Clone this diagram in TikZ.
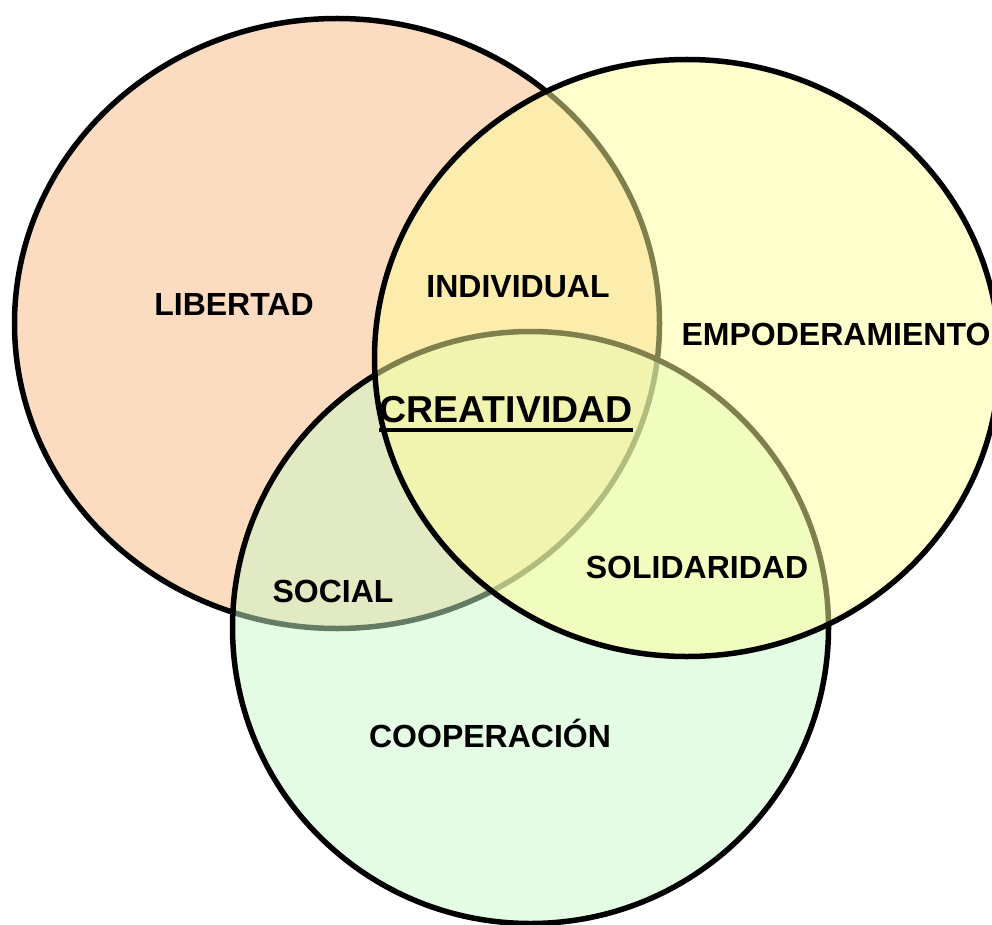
\documentclass[tikz,border=0pt]{standalone}
\usepackage{fontspec}
\setmainfont{Liberation Sans}
\usetikzlibrary{calc}

\definecolor{libcol}{RGB}{252,220,192}
\definecolor{coopcol}{RGB}{199,249,199}
\definecolor{empcol}{RGB}{255,255,155}

\begin{document}
\begin{tikzpicture}[x=1pt,y=-1pt,
    ring/.style={line width=5.5pt,draw=black},
    lbl/.style={font=\fontsize{32}{32}\selectfont\bfseries,anchor=base,inner sep=0pt},
    biglbl/.style={font=\fontsize{37.5}{37.5}\selectfont\bfseries,anchor=base,inner sep=0pt}]

    \useasboundingbox (0,0) rectangle (992,925);

    % the three sets, drawn in this order
    \filldraw[ring,fill=libcol] (337,323.5) ellipse [x radius=322.5,y radius=305];
    \filldraw[ring,fill=coopcol,fill opacity=0.5] (530.5,627.5) ellipse [x radius=298,y radius=296];
    \filldraw[ring,fill=empcol,fill opacity=0.5] (687,358) ellipse [x radius=312.5,y radius=298.5];

    \node[lbl] (libertad) at (234,315) {LIBERTAD};
    \node[lbl] (empoder) at (836,345) {EMPODERAMIENTO};
    \node[lbl] (coop) at (490,747) {COOPERACIÓN};
    \node[lbl] (individual) at (518,297) {INDIVIDUAL};
    \node[lbl] (social) at (333,602) {SOCIAL};
    \node[lbl] (solid) at (697,578) {SOLIDARIDAD};
    \node[biglbl] (crea) at (506,422) {CREATIVIDAD};
    \draw[line width=4pt] ($(crea.base west)+(0,7.5)$) -- ($(crea.base east)+(0,7.5)$);
\end{tikzpicture}
\end{document}
